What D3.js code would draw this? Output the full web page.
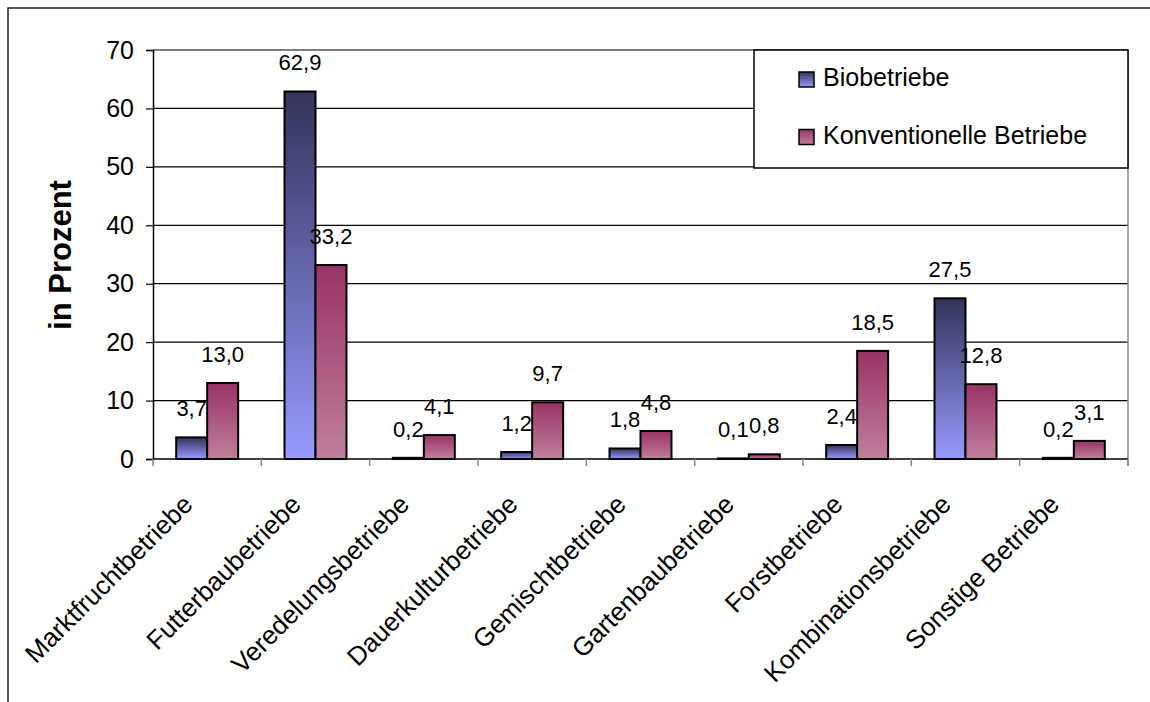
<!DOCTYPE html>
<html>
<head>
<meta charset="utf-8">
<script src="https://cdn.jsdelivr.net/npm/d3@7"></script>
<style>
  html, body { margin: 0; padding: 0; background: #fff; }
  svg { display: block; font-family: "Liberation Sans", Arial, sans-serif; }
</style>
</head>
<body>
<svg id="chart" width="1150" height="702"></svg>
<script>
// Betriebsformen: Anteil der Betriebe in Prozent
const categories = [
  "Marktfruchtbetriebe", "Futterbaubetriebe", "Veredelungsbetriebe",
  "Dauerkulturbetriebe", "Gemischtbetriebe", "Gartenbaubetriebe",
  "Forstbetriebe", "Kombinationsbetriebe", "Sonstige Betriebe"
];
const seriesNames = ["Biobetriebe", "Konventionelle Betriebe"];
const bioValues = [3.7, 62.9, 0.2, 1.2, 1.8, 0.1, 2.4, 27.5, 0.2];
const konvValues = [13.0, 33.2, 4.1, 9.7, 4.8, 0.8, 18.5, 12.8, 3.1];
const yTicks = [0, 10, 20, 30, 40, 50, 60, 70];
const yTitle = "in Prozent";

const svg = d3.select("#chart");

// plot frame
const plot = { left: 153, right: 1128, top: 50, bottom: 459 };

const x = d3.scaleBand().domain(categories).range([plot.left, plot.right]).padding(0);
const inner = d3.scaleBand().domain(seriesNames)
  .range([x.bandwidth() * 0.214, x.bandwidth() * 0.786]).padding(0);
const y = d3.scaleLinear().domain([0, 70]).range([plot.bottom, plot.top]);

const fmt = v => d3.format(".1f")(v).replace(".", ",");

// vertical gradients, dark at top
const defs = svg.append("defs");
const grads = [
  { id: "gBio", top: "#33335a", bottom: "#9999ff" },
  { id: "gKonv", top: "#993366", bottom: "#c0809c" }
];
grads.forEach(g => {
  const lg = defs.append("linearGradient").attr("id", g.id)
    .attr("x1", 0).attr("y1", 0).attr("x2", 0).attr("y2", 1);
  lg.append("stop").attr("offset", "0%").attr("stop-color", g.top);
  lg.append("stop").attr("offset", "100%").attr("stop-color", g.bottom);
});
const fills = { "Biobetriebe": "url(#gBio)", "Konventionelle Betriebe": "url(#gKonv)" };

// outer frame (left and top edges)
svg.append("path")
  .attr("d", "M8,702V8H1150")
  .attr("fill", "none").attr("stroke", "#222").attr("stroke-width", 1.5);

// gridlines
svg.append("g").selectAll("line").data(yTicks.filter(t => t > 0)).join("line")
  .attr("x1", plot.left).attr("x2", plot.right)
  .attr("y1", d => y(d)).attr("y2", d => y(d))
  .attr("stroke", "#000").attr("stroke-width", 1.2);

// right edge of the plot area
svg.append("line")
  .attr("x1", plot.right).attr("x2", plot.right)
  .attr("y1", plot.top).attr("y2", plot.bottom + 7)
  .attr("stroke", "#888").attr("stroke-width", 1.5);

// y axis
const yAxis = d3.axisLeft(y).tickValues(yTicks).tickSize(7).tickPadding(12).tickFormat(d3.format("d"));
const gy = svg.append("g").attr("transform", `translate(${plot.left},0)`).call(yAxis);
gy.select(".domain").attr("stroke", "#000").attr("stroke-width", 1.5);
gy.selectAll(".tick line").attr("stroke", "#000").attr("stroke-width", 1.2);
gy.selectAll(".tick text").attr("font-size", 25).attr("fill", "#000")
  .attr("font-family", "Liberation Sans, Arial, sans-serif");

// x axis with category boundary ticks
const boundaries = categories.map(c => x(c)).concat([plot.right]);
svg.append("line")
  .attr("x1", plot.left).attr("x2", plot.right)
  .attr("y1", plot.bottom).attr("y2", plot.bottom)
  .attr("stroke", "#000").attr("stroke-width", 1.5);
svg.append("g").selectAll("line").data(boundaries).join("line")
  .attr("x1", d => d).attr("x2", d => d)
  .attr("y1", plot.bottom).attr("y2", plot.bottom + 7)
  .attr("stroke", "#888").attr("stroke-width", 1.5);

// category labels
svg.append("g").selectAll("text").data(categories).join("text")
  .attr("transform", d => `translate(${x(d) + x.bandwidth() / 2 - 13},${plot.bottom + 47}) rotate(-45)`)
  .attr("text-anchor", "end")
  .attr("font-size", 26)
  .attr("fill", "#000")
  .text(d => d);

// bars
const rows = categories.map((c, i) => ({
  cat: c,
  vals: [
    { s: seriesNames[0], v: bioValues[i] },
    { s: seriesNames[1], v: konvValues[i] }
  ]
}));

const groups = svg.append("g").selectAll("g").data(rows).join("g")
  .attr("transform", d => `translate(${x(d.cat)},0)`);

groups.selectAll("rect").data(d => d.vals).join("rect")
  .attr("x", d => inner(d.s))
  .attr("width", inner.bandwidth())
  .attr("y", d => y(d.v))
  .attr("height", d => y(0) - y(d.v))
  .attr("fill", d => fills[d.s])
  .attr("stroke", "#000").attr("stroke-width", 2);

groups.selectAll("text").data(d => d.vals).join("text")
  .attr("x", d => inner(d.s) + inner.bandwidth() / 2)
  .attr("y", d => y(d.v) - 21)
  .attr("text-anchor", "middle")
  .attr("font-size", 22)
  .attr("fill", "#000")
  .text(d => fmt(d.v));

// y axis title
svg.append("text")
  .attr("transform", "translate(71,255) rotate(-90)")
  .attr("text-anchor", "middle")
  .attr("font-size", 31)
  .attr("font-weight", "bold")
  .attr("fill", "#000")
  .text(yTitle);

// legend
const legend = svg.append("g");
legend.append("rect")
  .attr("x", 754).attr("y", plot.top).attr("width", plot.right - 754).attr("height", 118)
  .attr("fill", "#fff").attr("stroke", "#000").attr("stroke-width", 1.5);
const items = legend.selectAll("g").data(seriesNames).join("g")
  .attr("transform", (d, i) => `translate(799,${72 + i * 57.5})`);
items.append("rect")
  .attr("width", 15).attr("height", 15)
  .attr("fill", d => fills[d])
  .attr("stroke", "#000").attr("stroke-width", 1.5);
items.append("text")
  .attr("x", 24).attr("y", 14)
  .attr("font-size", 25)
  .attr("fill", "#000")
  .text(d => d);
</script>
</body>
</html>
